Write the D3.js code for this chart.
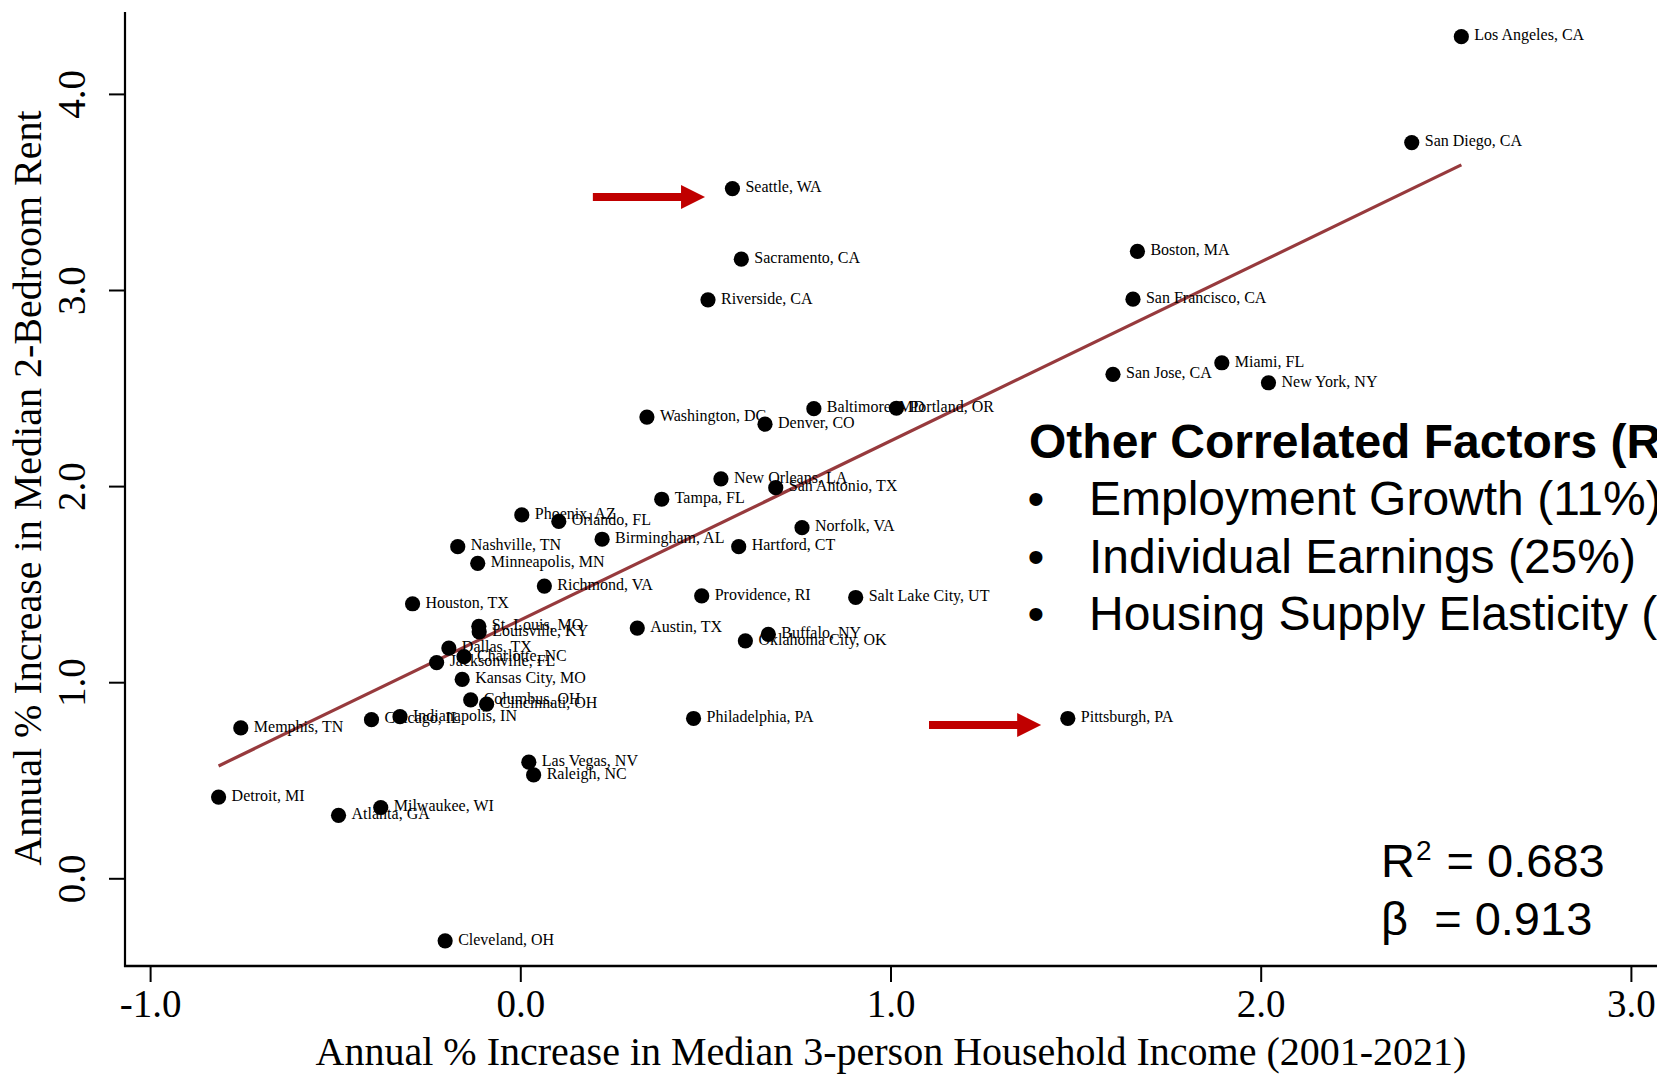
<!DOCTYPE html>
<html>
<head>
<meta charset="utf-8">
<script src="https://cdn.jsdelivr.net/npm/d3@7"></script>
<style>
  html, body { margin: 0; padding: 0; background: #ffffff; }
  svg { display: block; }
</style>
</head>
<body>
<div id="chart"></div>
<script>
// Metro areas: annual % change in median 3-person household income (x)
// and annual % change in median 2-bedroom rent (y), 2001-2021.
const cities = [
  "Los Angeles, CA", "San Diego, CA", "Seattle, WA", "Sacramento, CA", "Boston, MA",
  "Riverside, CA", "San Francisco, CA", "Miami, FL", "San Jose, CA", "New York, NY",
  "Baltimore, MD", "Portland, OR", "Washington, DC", "Denver, CO", "New Orleans, LA",
  "San Antonio, TX", "Tampa, FL", "Phoenix, AZ", "Orlando, FL", "Norfolk, VA",
  "Birmingham, AL", "Hartford, CT", "Nashville, TN", "Minneapolis, MN", "Richmond, VA",
  "Providence, RI", "Salt Lake City, UT", "Houston, TX", "St. Louis, MO", "Austin, TX",
  "Louisville, KY", "Buffalo, NY", "Oklahoma City, OK", "Dallas, TX", "Charlotte, NC",
  "Jacksonville, FL", "Kansas City, MO", "Columbus, OH", "Cincinnati, OH", "Indianapolis, IN",
  "Philadelphia, PA", "Pittsburgh, PA", "Chicago, IL", "Memphis, TN", "Las Vegas, NV",
  "Raleigh, NC", "Detroit, MI", "Milwaukee, WI", "Atlanta, GA", "Cleveland, OH"
];
const incomeGrowth = [
  2.542, 2.408, 0.573, 0.597, 1.667,
  0.507, 1.655, 1.895, 1.601, 2.021,
  0.793, 1.016, 0.342, 0.661, 0.542,
  0.690, 0.382, 0.004, 0.104, 0.761,
  0.221, 0.590, -0.169, -0.115, 0.065,
  0.490, 0.906, -0.291, -0.112, 0.316,
  -0.111, 0.670, 0.608, -0.193, -0.152,
  -0.226, -0.157, -0.134, -0.091, -0.325,
  0.468, 1.479, -0.402, -0.755, 0.023,
  0.036, -0.815, -0.377, -0.491, -0.203
];
const rentGrowth = [
  4.292, 3.752, 3.517, 3.157, 3.197,
  2.950, 2.953, 2.629, 2.570, 2.527,
  2.395, 2.397, 2.352, 2.316, 2.037,
  1.992, 1.933, 1.853, 1.820, 1.788,
  1.729, 1.691, 1.691, 1.606, 1.490,
  1.440, 1.432, 1.400, 1.285, 1.276,
  1.257, 1.244, 1.211, 1.174, 1.130,
  1.100, 1.014, 0.910, 0.888, 0.824,
  0.815, 0.815, 0.809, 0.767, 0.592,
  0.527, 0.414, 0.361, 0.321, -0.319
];

// Tick labels
const xTicks = [-1, 0, 1, 2, 3];
const yTicks = [0, 1, 2, 3, 4];

// Fitted line: rent = intercept + beta * income
const fitStats = { r2: 0.683, beta: 0.913 };
const fitIntercept = 1.317;

// Highlighted metros (arrow tail/tip in income units, height in rent units)
const callouts = [
  { city: "Seattle, WA", from: 0.196, to: 0.499, level: 3.474 },
  { city: "Pittsburgh, PA", from: 1.104, to: 1.407, level: 0.782 }
];

// Side panel text
const factorsTitle = "Other Correlated Factors (R";
const factorItems = [
  "Employment Growth (11%)",
  "Individual Earnings (25%)",
  "Housing Supply Elasticity ("
];

const xTitle = "Annual % Increase in Median 3-person Household Income (2001-2021)";
const yTitle = "Annual % Increase in Median 2-Bedroom Rent";

// ---- layout ----
const W = 1657, H = 1074;
const axisLeftX = 125, axisBottomY = 966, axisTopY = 12;
const serif = "'Liberation Serif', 'Times New Roman', Times, serif";
const sans = "'Liberation Sans', Arial, Helvetica, sans-serif";

const svg = d3.select("#chart").append("svg")
  .attr("width", W).attr("height", H)
  .attr("viewBox", `0 0 ${W} ${H}`);

const x = d3.scaleLinear().domain([-1, 3]).range([150.1, 1630.9]);
const y = d3.scaleLinear().domain([0, 4]).range([878.3, 93.9]);

const points = cities.map((c, i) => ({ city: c, x: incomeGrowth[i], y: rentGrowth[i] }));

// ---- axes ----
// one decimal, plain hyphen for negatives
const fmt = v => v.toFixed(1);

const gx = svg.append("g")
  .attr("transform", `translate(0,${axisBottomY})`)
  .call(d3.axisBottom(x).tickValues(xTicks).tickSize(16).tickFormat(fmt));
gx.select(".domain").remove();
gx.selectAll(".tick line").attr("stroke", "#000").attr("stroke-width", 2);
gx.selectAll(".tick text")
  .attr("y", 51).attr("dy", 0)
  .attr("fill", "#000")
  .style("font-family", serif).style("font-size", "39px");

const gy = svg.append("g")
  .attr("transform", `translate(${axisLeftX},0)`)
  .call(d3.axisLeft(y).tickValues(yTicks).tickSize(16).tickFormat(fmt));
gy.select(".domain").remove();
gy.selectAll(".tick line").attr("stroke", "#000").attr("stroke-width", 2);
gy.selectAll(".tick text")
  .attr("x", 0).attr("dy", 0)
  .attr("transform", "translate(-40,0) rotate(-90)")
  .attr("text-anchor", "middle")
  .attr("fill", "#000")
  .style("font-family", serif).style("font-size", "39px");

// axis lines
svg.append("line")
  .attr("x1", axisLeftX).attr("x2", axisLeftX)
  .attr("y1", axisTopY).attr("y2", axisBottomY + 1)
  .attr("stroke", "#000").attr("stroke-width", 2.2);
svg.append("line")
  .attr("x1", axisLeftX - 1).attr("x2", W)
  .attr("y1", axisBottomY).attr("y2", axisBottomY)
  .attr("stroke", "#000").attr("stroke-width", 2.6);

// axis titles
svg.append("text")
  .attr("x", 891).attr("y", 1065)
  .attr("text-anchor", "middle")
  .style("font-family", serif).style("font-size", "40px")
  .text(xTitle);

svg.append("text")
  .attr("transform", `translate(41,488) rotate(-90)`)
  .attr("text-anchor", "middle")
  .style("font-family", serif).style("font-size", "40px")
  .text(yTitle);

// ---- fitted line ----
const xExt = d3.extent(incomeGrowth);
svg.append("line")
  .attr("x1", x(xExt[0])).attr("y1", y(fitIntercept + fitStats.beta * xExt[0]))
  .attr("x2", x(xExt[1])).attr("y2", y(fitIntercept + fitStats.beta * xExt[1]))
  .attr("stroke", "#973A3D").attr("stroke-width", 3.2);

// ---- points and labels ----
svg.append("g").selectAll("circle")
  .data(points).join("circle")
  .attr("cx", d => x(d.x)).attr("cy", d => y(d.y))
  .attr("r", 7.6).attr("fill", "#000");

svg.append("g").selectAll("text")
  .data(points).join("text")
  .attr("x", d => x(d.x) + 13).attr("y", d => y(d.y) + 3.8)
  .style("font-family", serif).style("font-size", "16px")
  .attr("fill", "#000")
  .text(d => d.city);

// ---- callout arrows ----
const shaft = 8, headLen = 24, headHalf = 12;
svg.append("g").selectAll("path")
  .data(callouts).join("path")
  .attr("fill", "#C00000")
  .attr("d", d => {
    const x0 = x(d.from), x1 = x(d.to), yc = y(d.level);
    const xh = x1 - headLen;
    return `M${x0},${yc - shaft / 2}L${xh},${yc - shaft / 2}L${xh},${yc - headHalf}` +
           `L${x1},${yc}L${xh},${yc + headHalf}L${xh},${yc + shaft / 2}L${x0},${yc + shaft / 2}Z`;
  });

// ---- side panel ----
svg.append("text")
  .attr("x", 1029).attr("y", 457.5)
  .style("font-family", sans).style("font-size", "48px").style("font-weight", "bold")
  .text(factorsTitle);

const items = svg.append("g").selectAll("g")
  .data(factorItems).join("g")
  .attr("transform", (d, i) => `translate(0,${515 + i * 57.5})`);
items.append("text")
  .attr("x", 1036).attr("y", 0)
  .attr("text-anchor", "middle")
  .style("font-family", sans).style("font-size", "48px")
  .text("\u2022");
items.append("text")
  .attr("x", 1089).attr("y", 0)
  .style("font-family", sans).style("font-size", "48px")
  .text(d => d);

// ---- fit statistics ----
const r2Text = svg.append("text")
  .attr("x", 1381).attr("y", 877)
  .style("font-family", sans).style("font-size", "47px");
r2Text.append("tspan").text("R");
r2Text.append("tspan").attr("dx", 1).attr("dy", -17).style("font-size", "28px").text("2");
r2Text.append("tspan").attr("dy", 17).attr("dx", 2).text(` = ${fitStats.r2.toFixed(3)}`);

svg.append("text")
  .attr("x", 1381).attr("y", 935)
  .attr("xml:space", "preserve")
  .style("white-space", "pre")
  .style("font-family", sans).style("font-size", "47px")
  .text(`\u03B2  = ${fitStats.beta.toFixed(3)}`);
</script>
</body>
</html>
